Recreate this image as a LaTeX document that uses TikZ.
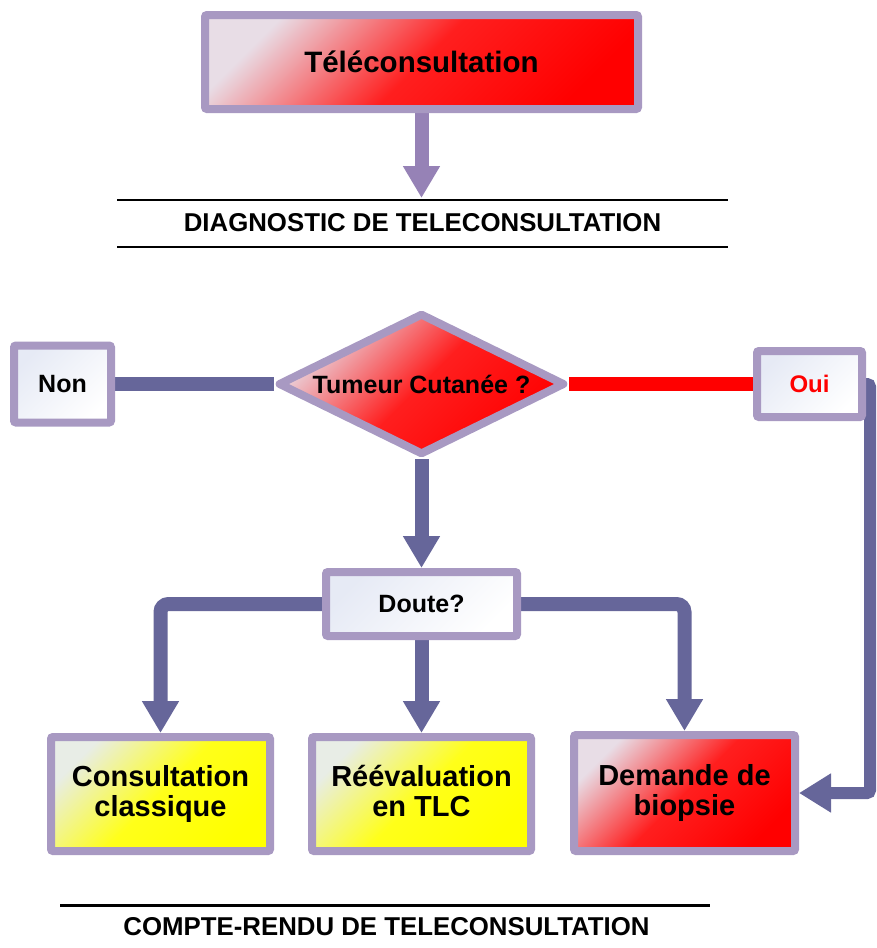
\documentclass[tikz,border=0pt]{standalone}
\usepackage{fontspec}
\setmainfont{Liberation Sans}
\usetikzlibrary{shapes.geometric,arrows.meta,backgrounds}
\definecolor{bordc}{HTML}{A899C2}
\definecolor{topc}{HTML}{9682B6}
\definecolor{connc}{HTML}{66669A}
\definecolor{lightc}{HTML}{E6EAF5}
\definecolor{pinkc}{HTML}{E8DDE6}
\definecolor{yelc}{HTML}{E8EDE6}
\begin{document}
\begin{tikzpicture}[x=1pt,y=-1pt,
  box/.style={draw=bordc, line width=8pt, rounded corners=2pt, inner sep=0pt, align=center},
  bigtxt/.style={font=\bfseries\fontsize{29}{30}\selectfont},
  midtxt/.style={font=\bfseries\fontsize{25}{30}\selectfont},
  redgrad/.style={top color=pinkc, bottom color=red, middle color=red!88!white, shading angle=45},
  yelgrad/.style={top color=yelc, bottom color=yellow, middle color=yellow!90!white, shading angle=45},
  ligrad/.style={top color=lightc, bottom color=white, shading angle=45},
  conn/.style={draw=connc, line width=14pt, rounded corners=8pt, -{Triangle[width=35pt,length=32pt]}},
  plainconn/.style={draw=connc, line width=14pt, rounded corners=8pt},
  caption/.style={font=\bfseries\fontsize{25.8}{30}\selectfont}
]
\useasboundingbox (0,0) rectangle (876,948);

% nodes
\node[box, redgrad, font=\bfseries\fontsize{29.5}{30}\selectfont, minimum width=433pt, minimum height=94pt] (tele) at (421.5,62) {Téléconsultation};
\coordinate (tip) at (421.5,198);

\node[caption] (diag) at (422.5,223) {DIAGNOSTIC DE TELECONSULTATION};
\draw[line width=2pt] (117,200) -- (728,200);
\draw[line width=2pt] (117,247) -- (728,247);

\node[box, ligrad, midtxt, minimum width=97pt, minimum height=77pt] (non) at (62.5,384) {Non};
\node[diamond, draw=bordc, line width=8pt, line join=round, minimum width=287pt, minimum height=142pt, inner sep=0pt, redgrad, midtxt] (tum) at (421.5,384) {\makebox[0pt]{Tumeur Cutanée ?}};
\node[box, ligrad, font=\bfseries\fontsize{24}{30}\selectfont, text=red, minimum width=105pt, minimum height=66pt] (oui) at (809.5,384) {Oui};
\coordinate (ouiR) at (870,384);

\node[box, ligrad, midtxt, minimum width=191pt, minimum height=64pt] (dou) at (421.5,604) {Doute?};

\node[box, yelgrad, bigtxt, minimum width=219pt, minimum height=114pt] (cons) at (160.5,794) {Consultation\\classique};
\node[box, yelgrad, bigtxt, minimum width=219pt, minimum height=114pt] (reev) at (421.5,794) {\smash{Réévaluation}\vphantom{Cl}\\en TLC\vphantom{q}};
\node[box, redgrad, bigtxt, minimum width=221pt, minimum height=116pt] (dem) at (684.5,793) {Demande de\\biopsie};

\draw[line width=3pt] (60,905) -- (710,905);
\node[caption] (cr) at (386.5,927) {COMPTE-RENDU DE TELECONSULTATION};

% connectors
\begin{scope}[on background layer]
\draw[draw=topc, line width=14pt, -{Triangle[width=35pt,length=32pt]}] (tele.south) -- (tip);
\draw[plainconn] (non.east) -- (tum.west);
\draw[draw=red, line width=14pt] (tum.east) -- (oui.west);
\draw[draw=connc, line width=12pt, rounded corners=3pt, -{Triangle[width=37pt,length=32pt]}] (oui.east) -- (ouiR) |- (dem.east);
\draw[conn] (tum.south) -- (dou.north);
\draw[conn] (dou.west) -| (cons.north);
\draw[conn] (dou.south) -- (reev.north);
\draw[conn] (dou.east) -| (dem.north);
\end{scope}
\end{tikzpicture}
\end{document}
